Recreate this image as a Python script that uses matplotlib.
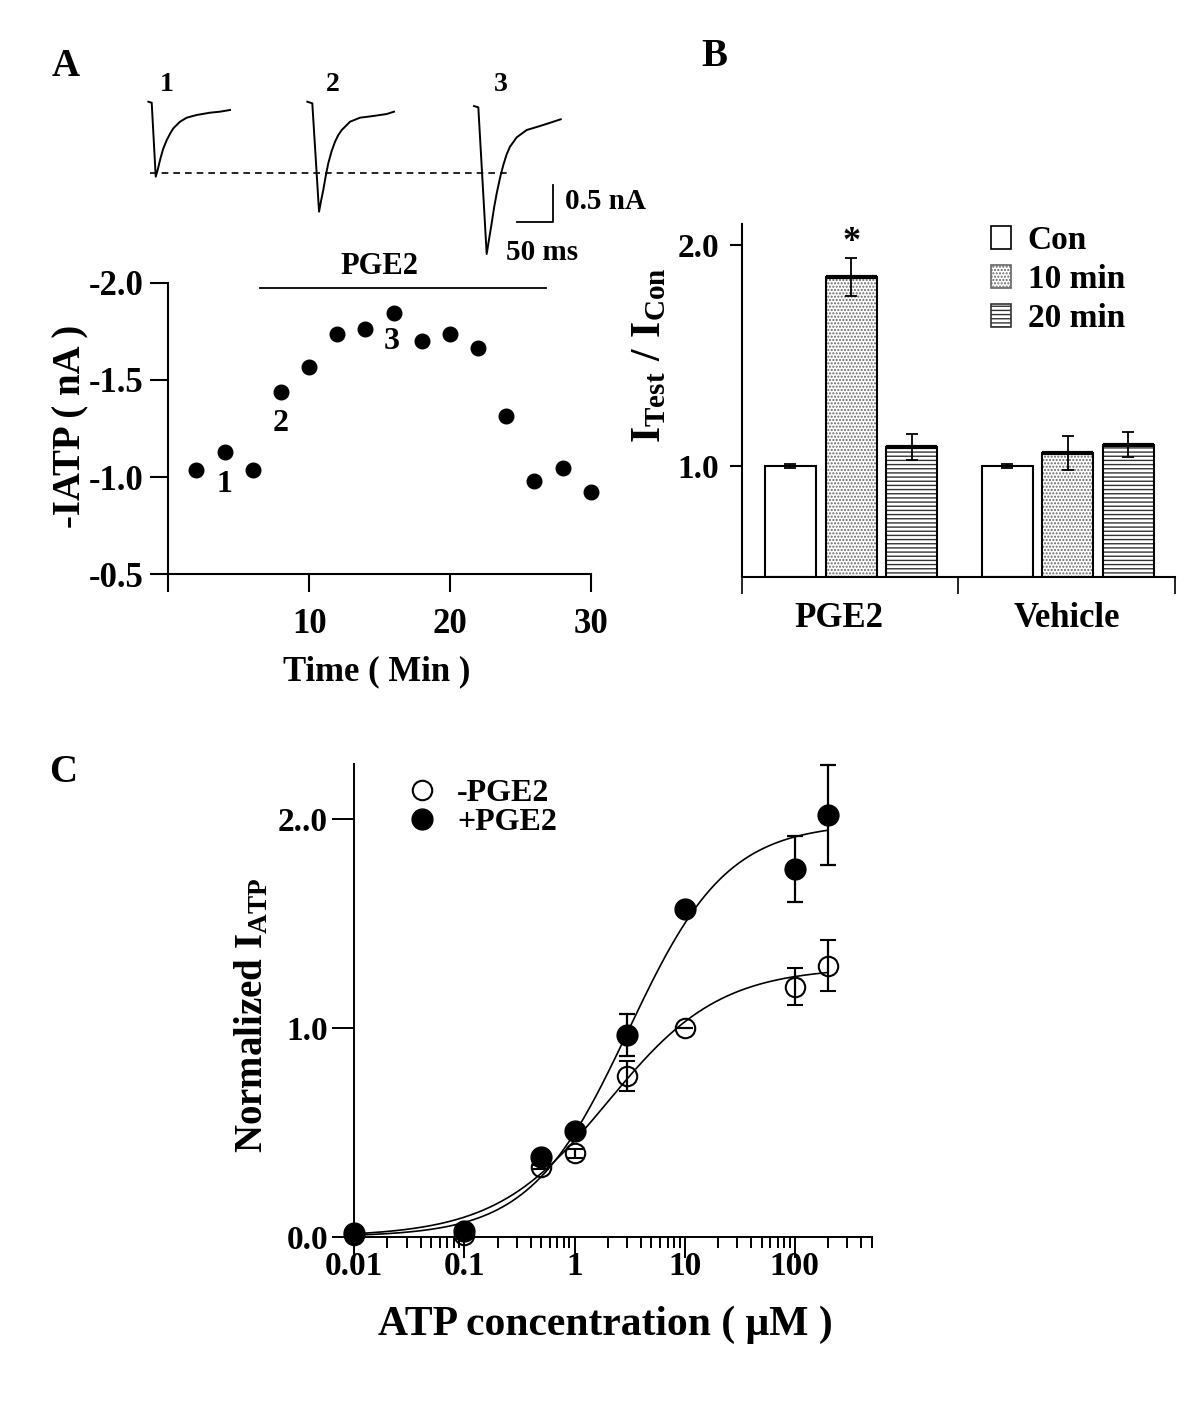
import numpy as np
import matplotlib
matplotlib.use('Agg')
import matplotlib.pyplot as plt
from matplotlib.patches import Patch
from matplotlib.lines import Line2D
from matplotlib.ticker import LogLocator, NullFormatter

plt.rcParams['font.family'] = ['Liberation Serif', 'DejaVu Serif']
plt.rcParams['font.weight'] = 'bold'
plt.rcParams['axes.unicode_minus'] = False
plt.rcParams['mathtext.fontset'] = 'custom'
plt.rcParams['mathtext.rm'] = 'Liberation Serif:bold'
plt.rcParams['mathtext.it'] = 'Liberation Serif:bold'
plt.rcParams['mathtext.bf'] = 'Liberation Serif:bold'

# ---- panel A: example current traces (ms, nA from baseline)
trace1_ms = [0, 4.6, 10.1, 13, 16, 20, 25.1, 30, 34.1, 43.2, 52.4, 66, 84.2, 97.8, 111.5]
trace1_nA = [0, -0.014, -1.023, -0.92, -0.795, -0.65, -0.523, -0.43, -0.363, -0.273,
             -0.218, -0.181, -0.150, -0.136, -0.113]
trace2_ms = [0, 6.8, 16, 19, 21.8, 25, 28.6, 33, 37.8, 42, 46.9, 58.3, 71.9, 90, 108.3, 118.3]
trace2_nA = [0, -0.022, -1.50, -1.34, -1.205, -1.02, -0.84, -0.68, -0.546, -0.46, -0.387,
             -0.273, -0.218, -0.195, -0.168, -0.136]
trace3_ms = [0, 5.9, 17.3, 20.5, 24.1, 27.5, 31, 35.5, 40, 44.5, 49.1, 58.3, 71.9, 90, 108.2, 118.3]
trace3_nA = [0, -0.018, -2.019, -1.82, -1.60, -1.38, -1.19, -0.98, -0.805, -0.66, -0.555,
             -0.427, -0.327, -0.273, -0.214, -0.181]
trace_labels = ['1', '2', '3']

# ---- panel A: time course
time_min = [2, 4, 6, 8, 10, 12, 14, 16, 18, 20, 22, 24, 26, 28, 30]
i_atp = [-1.037, -1.131, -1.037, -1.439, -1.565, -1.736, -1.762, -1.846,
         -1.70, -1.736, -1.662, -1.314, -0.98, -1.045, -0.925]
pge2_start, pge2_end = 6.5, 26.8

# ---- panel B: I_test / I_con
groups = ['PGE2', 'Vehicle']
conditions = ['Con', '10 min', '20 min']
con_mean = [1.0, 1.0]
con_err = [0.008, 0.008]
min10_mean = [1.854, 1.059]
min10_err = [0.086, 0.076]
min20_mean = [1.086, 1.097]
min20_err = [0.059, 0.057]

# ---- panel C: dose response
atp_conc = [0.01, 0.1, 0.5, 1, 3, 10, 100, 200]
minus_mean = [0.01, 0.01, 0.332, 0.399, 0.77, 1.0, 1.197, 1.298]
minus_err = [0.0, 0.0, 0.01, 0.02, 0.072, 0.0, 0.09, 0.122]
plus_mean = [0.02, 0.027, 0.383, 0.508, 0.966, 1.57, 1.76, 2.02]
plus_err = [0.0, 0.0, 0.01, 0.02, 0.10, 0.0, 0.16, 0.24]
# Hill fit parameters (Emax, EC50, n)
minus_fit = (1.29, 2.0, 0.85)
plus_fit = (1.98, 3.1, 0.97)

W, H = 1200, 1412
fig = plt.figure(figsize=(W / 100, H / 100), dpi=100)


def px_rect(x0, y0, x1, y1):
    return [x0 / W, 1 - y1 / H, (x1 - x0) / W, (y1 - y0) / H]


def ftext(x, y, s, **kw):
    kw.setdefault('ha', 'center')
    kw.setdefault('va', 'center')
    fig.text(x / W, 1 - y / H, s, **kw)


def style_axes(ax, lw=1.5):
    for s in ['top', 'right']:
        ax.spines[s].set_visible(False)
    for s in ['left', 'bottom']:
        ax.spines[s].set_linewidth(lw)
    ax.tick_params(direction='out', width=lw)


# ================= panel A traces =================
ax_tr = fig.add_axes(px_rect(130, 60, 600, 270))
ax_tr.axis('off')
ax_tr.set_xlim(0, 641.2)
ax_tr.set_ylim(-2.296, 0.569)
starts = [25, 241.9, 469.3]
bases = [0, 0, -0.059]
label_dx = [25, 35, 36]
traces = [(trace1_ms, trace1_nA), (trace2_ms, trace2_nA), (trace3_ms, trace3_nA)]
for (t, i), s0, b, dx, lab in zip(traces, starts, bases, label_dx, trace_labels):
    ax_tr.plot(np.array(t) + s0, np.array(i) + b, color='k', lw=1.4)
    ax_tr.text(s0 + dx, 0.24, lab, fontsize=20, ha='center', va='center')
ax_tr.plot([27, 516], [-0.977, -0.977], color='k', lw=1.2, ls=(0, (4, 3)))
ax_tr.plot([527.5, 577.5, 577.5], [-1.637, -1.637, -1.136], color='k', lw=1.3)
ax_tr.text(594, -1.36, '0.5 nA', fontsize=21, ha='left', va='center')
ax_tr.text(513, -2.06, '50 ms', fontsize=21, ha='left', va='center')

# ================= panel A time course =================
axA = fig.add_axes(px_rect(168.3, 282.7, 590.7, 574.3))
style_axes(axA)
axA.plot(time_min, i_atp, 'o', color='k', ms=10.5, clip_on=False)
axA.set_xlim(0, 30)
axA.set_ylim(-0.5, -2.0)
axA.set_xticks([0, 10, 20, 30])
axA.set_xticklabels(['', '10', '20', '30'])
axA.set_yticks([-2.0, -1.5, -1.0, -0.5])
axA.set_yticklabels(['-2.0', '-1.5', '-1.0', '-0.5'])
axA.tick_params(axis='x', length=13, pad=11, labelsize=25)
axA.tick_params(axis='y', length=13, pad=5, labelsize=25)
axA.plot([pge2_start, pge2_end], [-1.975, -1.975], color='k', lw=1.3, clip_on=False)
axA.text(15, -2.085, 'PGE2', fontsize=22, ha='center', va='center')
for lab, tx, ty in zip(trace_labels, [4.0, 8.0, 15.9], [-0.964, -1.277, -1.696]):
    axA.text(tx, ty, lab, fontsize=23, ha='center', va='center')
ftext(71, 426, '-IATP ( nA )', fontsize=28, rotation=90)
ftext(377, 672, 'Time ( Min )', fontsize=25)

# ================= panel B =================
axB = fig.add_axes(px_rect(741.7, 224, 1175, 576.7))
style_axes(axB)
xg = np.arange(len(groups))
width = 0.235
offsets = [0.225, 0.505, 0.785]
stipple = '#666666'
lines20 = '#333333'
axB.bar(xg + offsets[0], np.array(con_mean) - 0.5, width, bottom=0.5,
        color='white', edgecolor='k', lw=1.5, zorder=2)
axB.bar(xg + offsets[1], np.array(min10_mean) - 0.5, width, bottom=0.5,
        color='white', edgecolor=stipple, hatch='.....', lw=0, zorder=2)
axB.bar(xg + offsets[1], np.array(min10_mean) - 0.5, width, bottom=0.5,
        fill=False, edgecolor='k', lw=1.5, zorder=3)
axB.bar(xg + offsets[2], np.array(min20_mean) - 0.5, width, bottom=0.5,
        color='white', edgecolor=lines20, hatch='----', lw=0, zorder=2)
axB.bar(xg + offsets[2], np.array(min20_mean) - 0.5, width, bottom=0.5,
        fill=False, edgecolor='k', lw=1.5, zorder=3)
for off, m in [(offsets[1], min10_mean), (offsets[2], min20_mean)]:
    axB.hlines(m, xg + off - width / 2, xg + off + width / 2, color='k', lw=3, zorder=4)
for off, m, e in [(offsets[0], con_mean, con_err), (offsets[1], min10_mean, min10_err),
                  (offsets[2], min20_mean, min20_err)]:
    axB.errorbar(xg + off, m, yerr=e, fmt='none', ecolor='k', elinewidth=1.3,
                 capsize=4, capthick=1.3, zorder=5)
axB.text(offsets[1], min10_mean[0] + min10_err[0] + 0.07, '*', fontsize=26,
         ha='center', va='center')
axB.set_xlim(0, 2)
axB.set_ylim(0.5, 2.095)
axB.set_xticks([0, 1, 2])
axB.set_xticklabels([])
axB.set_xticks([0.45, 1.5], minor=True)
axB.set_xticklabels(groups, minor=True)
axB.tick_params(axis='x', which='major', length=12, width=1.2)
axB.tick_params(axis='x', which='minor', length=0, pad=18, labelsize=25)
axB.set_yticks([1.0, 2.0])
axB.set_yticklabels(['1.0', '2.0'])
axB.tick_params(axis='y', length=9, pad=7, labelsize=24)
hB = [Patch(facecolor='white', edgecolor='k', lw=1.2),
      Patch(facecolor='white', edgecolor=stipple, hatch='.....', lw=1.2),
      Patch(facecolor='white', edgecolor=lines20, hatch='----', lw=1.2)]
axB.legend(hB, conditions, loc='upper left', bbox_to_anchor=(0.575, 0.997),
           frameon=False, fontsize=24, handlelength=0.6, handleheight=0.7,
           handletextpad=0.5, labelspacing=0.24, borderaxespad=0, borderpad=0)
ftext(650, 355, r'$\mathrm{I_{Test}\ /\ I_{Con}}$', fontsize=30, rotation=90)

# ================= panel C =================
axC = fig.add_axes(px_rect(354.3, 764, 871.7, 1236.7))
style_axes(axC, lw=1.4)
xs = np.logspace(-2, np.log10(200), 400)
for (emax, ec50, n) in [minus_fit, plus_fit]:
    axC.plot(xs, emax * xs ** n / (xs ** n + ec50 ** n), color='k', lw=1.2, zorder=2)
axC.errorbar(atp_conc, minus_mean, yerr=minus_err, fmt='o', mfc='none', mec='k',
             mew=1.5, ms=14, ecolor='k', elinewidth=1.6, capsize=6, capthick=1.6,
             zorder=3, clip_on=False)
axC.errorbar(atp_conc, plus_mean, yerr=plus_err, fmt='o', mfc='k', mec='k',
             ms=15, ecolor='k', elinewidth=1.6, capsize=6, capthick=1.6,
             zorder=4, clip_on=False)
axC.set_xscale('log')
axC.set_xlim(0.01, 500)
axC.set_ylim(0, 2.263)
axC.set_xticks([0.01, 0.1, 1, 10, 100])
axC.set_xticklabels(['0.01', '0.1', '1', '10', '100'])
axC.xaxis.set_minor_locator(LogLocator(base=10, subs=np.arange(2, 10), numticks=20))
axC.xaxis.set_minor_formatter(NullFormatter())
axC.set_yticks([0, 1, 2])
axC.set_yticklabels(['0.0', '1.0', '2..0'])
axC.tick_params(axis='x', which='major', length=15, pad=-5, labelsize=24)
axC.tick_params(axis='x', which='minor', length=8, width=1.4)
axC.tick_params(axis='y', length=16, pad=3, labelsize=24)
hC = [Line2D([], [], ls='none', marker='o', mfc='none', mec='k', mew=1.5, ms=14),
      Line2D([], [], ls='none', marker='o', mfc='k', mec='k', ms=15)]
axC.legend(hC, ['-PGE2', '+PGE2'], loc='upper left', bbox_to_anchor=(0.10, 0.969),
           frameon=False, fontsize=23, handlelength=1.0, handletextpad=0.6,
           labelspacing=0.0, borderaxespad=0, borderpad=0)
ftext(252, 1015, r'Normalized $\mathrm{I_{ATP}}$', fontsize=28, rotation=90)
ftext(605, 1325, 'ATP concentration ( \u03bcM )', fontsize=30)

# panel letters
ftext(66, 67, 'A', fontsize=28)
ftext(714, 57, 'B', fontsize=28)
ftext(63, 772, 'C', fontsize=28)

fig.savefig('out.png', dpi=100)
